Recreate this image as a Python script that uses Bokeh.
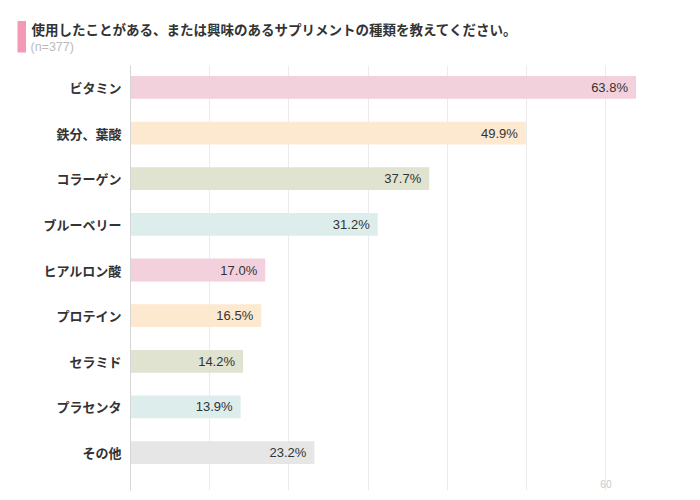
from bokeh.plotting import figure
from bokeh.layouts import column
from bokeh.models import Range1d, FixedTicker, ColumnDataSource
from bokeh.core.properties import value
from bokeh.embed import file_html
from bokeh.resources import INLINE

title_text = "使用したことがある、または興味のあるサプリメントの種類を教えてください。"
subtitle_text = "(n=377)"
categories = ["ビタミン", "鉄分、葉酸", "コラーゲン", "ブルーベリー", "ヒアルロン酸",
              "プロテイン", "セラミド", "プラセンタ", "その他"]
values = [63.8, 49.9, 37.7, 31.2, 17.0, 16.5, 14.2, 13.9, 23.2]
bar_colors = ["#f2d1dd", "#fde9cf", "#dfe3cf", "#dcedeb", "#f2d1dd",
              "#fde9cf", "#dfe3cf", "#dcedeb", "#e6e6e6"]
grid_ticks = [0, 10, 20, 30, 40, 50, 60]
shown_tick_labels = [60]

JP = "Noto Sans CJK JP"
W = 692
HEAD_H = 65

# ---- header (title block) ----
head = figure(width=W, height=HEAD_H, output_backend="svg", toolbar_location=None,
              x_range=Range1d(0, W), y_range=Range1d(HEAD_H, 0),
              x_axis_location=None, y_axis_location=None,
              min_border=0, frame_align=False)
head.outline_line_color = None
head.grid.visible = False
head.quad(left=[17], right=[25.5], top=[20.5], bottom=[52],
          fill_color="#f59ab5", line_color=None)
head.text(x=[31], y=[28.5], text=[title_text], text_baseline="middle",
          text_font=value(JP), text_font_style="bold", text_font_size="13.5px",
          text_color="#333333")
head.text(x=[30], y=[46], text=[subtitle_text], text_baseline="middle",
          text_font=value("Liberation Sans"), text_font_style="normal",
          text_font_size="12.5px", text_color="#bbbbbb")

# ---- bar chart ----
positions = list(range(len(categories)))
src = ColumnDataSource(dict(
    pos=positions, val=values, color=bar_colors,
    label=[f"{v:.1f}%" for v in values],
))

y_bottom = 8.83
p = figure(width=W, height=427, output_backend="svg", toolbar_location=None,
           x_range=Range1d(0, 65), y_range=Range1d(y_bottom, -0.48),
           min_border_left=130, min_border_right=47, min_border_top=0,
           min_border_bottom=2, frame_align=False)
p.outline_line_color = None
p.xaxis.visible = False
p.xgrid.ticker = FixedTicker(ticks=grid_ticks)
p.xgrid.grid_line_color = "#ebebeb"
p.ygrid.visible = False

p.yaxis.ticker = FixedTicker(ticks=positions)
p.yaxis.major_label_overrides = {i: c for i, c in zip(positions, categories)}
p.yaxis.major_tick_line_color = None
p.yaxis.minor_tick_line_color = None
p.yaxis.major_tick_out = 0
p.yaxis.major_tick_in = 0
p.yaxis.minor_tick_out = 0
p.yaxis.axis_line_color = "#d6d6d6"
p.yaxis.major_label_standoff = 9
p.yaxis.major_label_text_font = JP
p.yaxis.major_label_text_font_style = "bold"
p.yaxis.major_label_text_font_size = "13px"
p.yaxis.major_label_text_color = "#333333"

p.hbar(y="pos", left=0, right="val", height=0.5, fill_color="color",
       line_color=None, source=src)
p.text(x="val", y="pos", text="label", x_offset=-8, text_align="right",
       text_baseline="middle", text_font=value("Liberation Sans"),
       text_font_size="13px", text_color="#333333", source=src)
p.text(x=shown_tick_labels, y=[y_bottom] * len(shown_tick_labels),
       text=[str(t) for t in shown_tick_labels], y_offset=-7,
       text_align="center", text_baseline="middle",
       text_font=value("Liberation Sans"), text_font_size="10px",
       text_color="#c8c8c8")

layout = column(head, p, spacing=0)
open("out.html", "w").write(file_html(layout, INLINE))
